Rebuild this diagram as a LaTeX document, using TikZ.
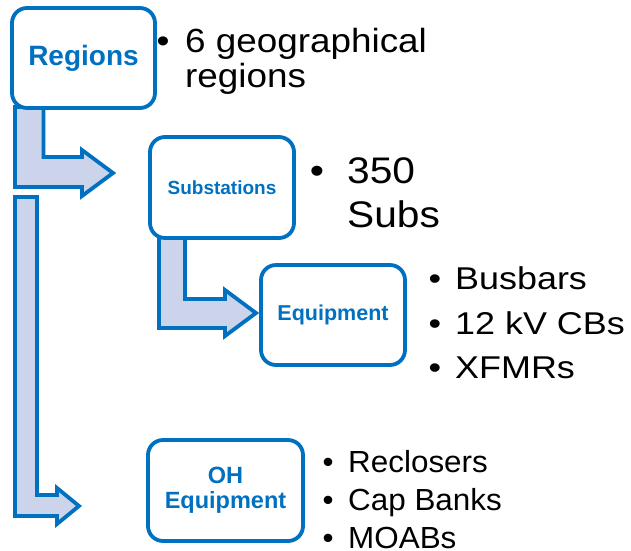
\documentclass[tikz,border=0pt]{standalone}
\usepackage{fontspec}
\setmainfont{Liberation Sans}
\usepackage{graphicx}
\definecolor{bblue}{RGB}{0,112,192}
\definecolor{afill}{RGB}{204,212,236}
\newcommand{\myfs}[1]{\fontsize{#1pt}{#1pt}\selectfont}
\begin{document}
\begin{tikzpicture}[x=1pt,y=-1pt,
  box/.style={draw=bblue, line width=3.8pt, rounded corners=15pt, fill=white,
    inner sep=0pt, text=bblue, align=center},
  barrow/.style={draw=bblue, line width=3.8pt, fill=afill, line join=miter},
  item/.style={anchor=base west, inner sep=0pt, text=black},
  bul/.style={anchor=base, inner sep=0pt, text=black}]
\useasboundingbox (0,0) rectangle (631,550);

% block arrows
\draw[barrow] (15,107) -- (43.5,107) -- (43.5,157) -- (82,157) -- (82,150)
  -- (113,173) -- (82,196) -- (82,187) -- (15,187) -- cycle;
\draw[barrow] (15,197) -- (37,197) -- (37,495) -- (57,495) -- (57,488)
  -- (79,506) -- (57,524) -- (57,516) -- (15,516) -- cycle;
\draw[barrow] (159,236) -- (185,236) -- (185,299) -- (225,299) -- (225,290)
  -- (256,313) -- (225,336) -- (225,328) -- (159,328) -- cycle;

% boxes
\node[box, minimum width=143pt, minimum height=100pt, font=\bfseries\myfs{28}]
  (reg) at (83.5,58) {Regions};
\node[box, minimum width=144pt, minimum height=101pt, font=\bfseries\myfs{19}]
  (sub) at (222,187.5) {Substations};
\node[box, minimum width=144pt, minimum height=100pt, font=\bfseries\myfs{21.5}]
  (eqp) at (333,315) {Equipment};
\node[box, minimum width=155pt, minimum height=101pt,
  font=\bfseries\fontsize{23.5pt}{25pt}\selectfont]
  (oh) at (225.5,490.5) {OH\\Equipment};

% bullet lists
\node[bul, font=\myfs{33.5}] (b1) at (163,52) {\scalebox{1.1}[1]{•}};
\node[item, font=\myfs{33.5}] (t1a) at (185,52) {\scalebox{1.1}[1]{6 geographical}};
\node[item, font=\myfs{33.5}] (t1b) at (185,87) {\scalebox{1.1}[1]{regions}};

\node[bul, font=\myfs{37}] (b2) at (317,183) {\scalebox{1.1}[1]{•}};
\node[item, font=\myfs{37}] (t2a) at (347,183) {\scalebox{1.1}[1]{350}};
\node[item, font=\myfs{37}] (t2b) at (347,227) {\scalebox{1.1}[1]{Subs}};

\node[bul, font=\myfs{31.5}] (b3a) at (435,289) {\scalebox{1.14}[1]{•}};
\node[item, font=\myfs{31.5}] (t3a) at (455,289) {\scalebox{1.14}[1]{Busbars}};
\node[bul, font=\myfs{31.5}] (b3b) at (435,334) {\scalebox{1.14}[1]{•}};
\node[item, font=\myfs{31.5}] (t3b) at (455,334) {\scalebox{1.14}[1]{12 kV CBs}};
\node[bul, font=\myfs{31.5}] (b3c) at (435,378) {\scalebox{1.14}[1]{•}};
\node[item, font=\myfs{31.5}] (t3c) at (455,378) {\scalebox{1.14}[1]{XFMRs}};

\node[bul, font=\myfs{30.5}] (b4a) at (328,472) {\scalebox{1.03}[1]{•}};
\node[item, font=\myfs{30.5}] (t4a) at (348,472) {\scalebox{1.03}[1]{Reclosers}};
\node[bul, font=\myfs{30.5}] (b4b) at (328,510) {\scalebox{1.03}[1]{•}};
\node[item, font=\myfs{30.5}] (t4b) at (348,510) {\scalebox{1.03}[1]{Cap Banks}};
\node[bul, font=\myfs{30.5}] (b4c) at (328,548) {\scalebox{1.03}[1]{•}};
\node[item, font=\myfs{30.5}] (t4c) at (348,548) {\scalebox{1.03}[1]{MOABs}};
\end{tikzpicture}
\end{document}
